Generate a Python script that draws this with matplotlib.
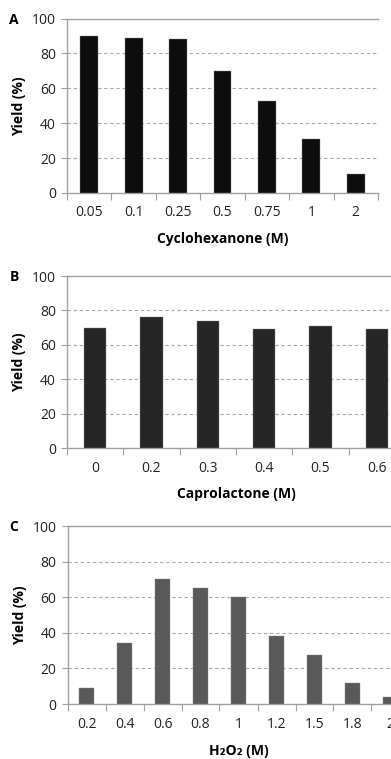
import matplotlib
matplotlib.use("Agg")
import matplotlib.pyplot as plt
import numpy as np

plt.rcParams["font.family"] = ["Open Sans", "DejaVu Sans"]

# panel A: cyclohexanone concentration
cyclo_labels = ["0.05", "0.1", "0.25", "0.5", "0.75", "1", "2"]
cyclo_yield = [90, 89, 88, 70, 53, 31, 11]

# panel B: caprolactone concentration
capro_labels = ["0", "0.2", "0.3", "0.4", "0.5", "0.6"]
capro_yield = [70, 76, 74, 69, 71, 69]

# panel C: H2O2 concentration
h2o2_labels = ["0.2", "0.4", "0.6", "0.8", "1", "1.2", "1.5", "1.8", "2"]
h2o2_yield = [9, 34, 70, 65, 60, 38, 27.5, 12, 4]

W, H = 391, 759
fig = plt.figure(figsize=(W / 100, H / 100), dpi=100)


def panel(left, top, bottom, right, labels, values, color, xlabel, letter,
          xmax=None, xpad=8):
    ax = fig.add_axes([left / W, 1 - bottom / H, (right - left) / W, (bottom - top) / H])
    x = np.arange(len(labels))
    ax.bar(x, values, width=0.4, color=color, edgecolor="#8a8a8a", linewidth=0.3, zorder=3)
    ax.set_ylim(0, 100)
    ax.set_yticks(range(0, 101, 20))
    ax.set_xlim(-0.5, xmax if xmax is not None else len(labels) - 0.5)
    ax.set_xticks(x)
    ax.set_xticklabels(labels, fontsize=10, color="#222222")
    ax.set_xticks(np.arange(len(labels) + 1) - 0.5, minor=True)
    ax.tick_params(axis="x", which="major", length=0, pad=9)
    ax.tick_params(axis="x", which="minor", length=5, color="#a0a0a0", width=0.8, direction="out")
    ax.tick_params(axis="y", length=4, color="#a0a0a0", width=0.8, labelsize=10,
                   labelcolor="#222222", pad=4)
    for y in range(20, 100, 20):
        ax.axhline(y, color="#a8a8a8", lw=0.8, ls=(0, (3, 2.5)), zorder=1)
    ax.spines["right"].set_visible(False)
    for s in ("left", "bottom", "top"):
        ax.spines[s].set_color("#a0a0a0")
        ax.spines[s].set_linewidth(1.0)
    ax.set_ylabel("Yield (%)", fontsize=10, fontweight="bold", labelpad=4)
    ax.set_xlabel(xlabel, fontsize=10, fontweight="bold", labelpad=xpad)
    fig.text(14 / W, 1 - (top + 1) / H, letter, fontsize=10, fontweight="bold",
             ha="center", va="center")
    return ax


panel(67, 18.5, 193, 378, cyclo_labels, cyclo_yield, "#0d0d0d",
      "Cyclohexanone (M)", "A", xmax=6.09)
panel(67, 276, 448, 405, capro_labels, capro_yield, "#262626",
      "Caprolactone (M)", "B")
panel(67.5, 526, 704, 409.5, h2o2_labels, h2o2_yield, "#595959",
      "H\u2082O\u2082 (M)", "C", xpad=9)

fig.savefig("out.png", dpi=100)
